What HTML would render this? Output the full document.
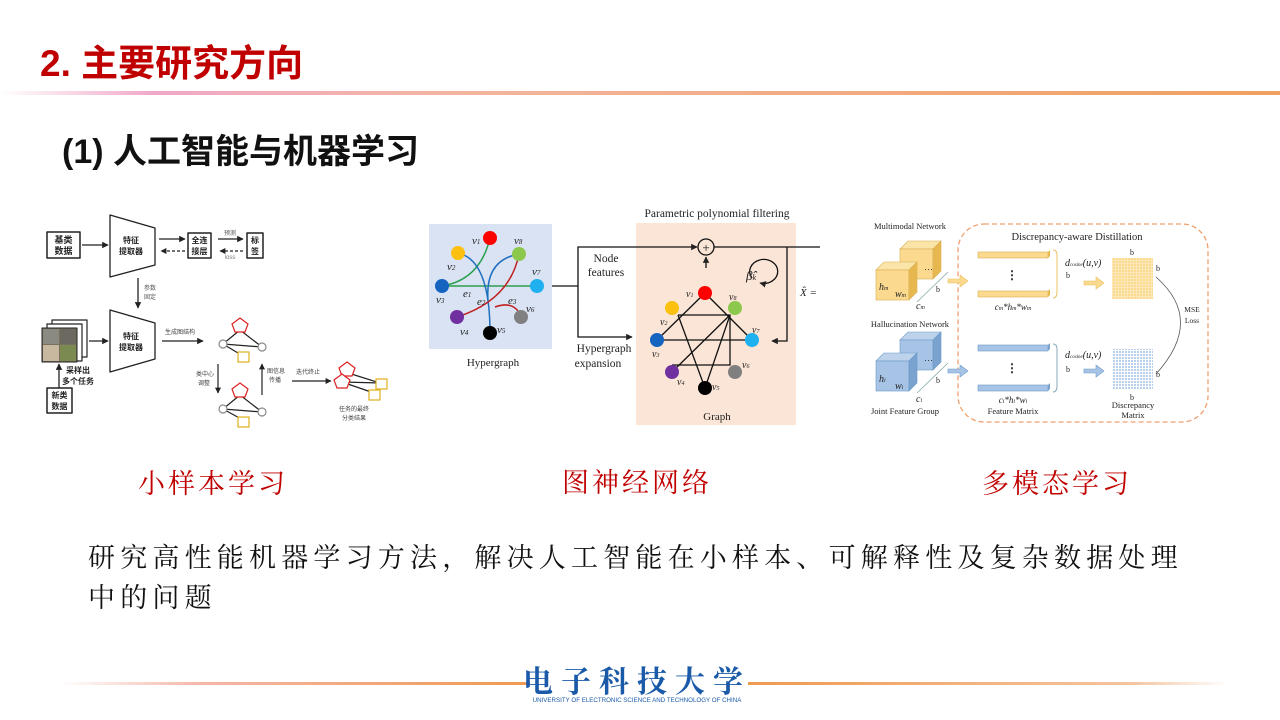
<!DOCTYPE html>
<html><head><meta charset="utf-8"><style>
html,body{margin:0;padding:0;background:#fff;}
body{width:1280px;height:720px;overflow:hidden;position:relative;}
svg{position:absolute;left:0;top:0;}
.s{font-family:"Liberation Sans","Noto Sans CJK SC",sans-serif;}
.r{font-family:"Liberation Serif","Noto Serif CJK SC",serif;}
.k{font-family:"Liberation Serif","Noto Serif CJK SC",serif;}
</style></head><body>
<svg width="1280" height="720" viewBox="0 0 1280 720" xmlns="http://www.w3.org/2000/svg">
<defs>
<linearGradient id="hl" x1="0" x2="1"><stop offset="0" stop-color="#fff"/><stop offset="0.12" stop-color="#f0a8c8"/><stop offset="0.35" stop-color="#f3b5a0"/><stop offset="1" stop-color="#f0a060"/></linearGradient>
<linearGradient id="fl" x1="0" x2="1"><stop offset="0" stop-color="#fff"/><stop offset="0.3" stop-color="#f4b6a8"/><stop offset="1" stop-color="#f09a50"/></linearGradient>
<linearGradient id="fr" x1="0" x2="1"><stop offset="0" stop-color="#f09a50"/><stop offset="0.8" stop-color="#f4c4a0"/><stop offset="1" stop-color="#fff"/></linearGradient>
<marker id="a" viewBox="0 0 10 10" refX="9" refY="5" markerWidth="5" markerHeight="5" orient="auto"><path d="M0,0L10,5L0,10z" fill="#222"/></marker>
<pattern id="gy" width="3" height="3" patternUnits="userSpaceOnUse"><rect width="3" height="3" fill="#fde8b8"/><rect width="2" height="2" fill="#fbd98f"/></pattern>
<pattern id="gb" width="3" height="3" patternUnits="userSpaceOnUse"><rect width="3" height="3" fill="#fff"/><rect width="2" height="2" fill="#b8d0ec"/></pattern>
</defs>

<!-- header -->
<text x="40" y="76" class="s" font-size="37" font-weight="bold" fill="#c00000">2. 主要研究方向</text>
<rect x="0" y="91" width="1280" height="4" fill="url(#hl)"/>
<text x="62" y="163" class="s" font-size="34" font-weight="bold" fill="#111">(1) 人工智能与机器学习</text>

<!-- Diagram 1 -->
<g class="s" font-size="9" fill="#222" stroke-linejoin="round">
<rect x="47" y="232" width="33" height="26" fill="#fff" stroke="#222" stroke-width="1.5"/>
<text x="63.5" y="243" text-anchor="middle" font-weight="bold">基类</text><text x="63.5" y="254" text-anchor="middle" font-weight="bold">数据</text>
<line x1="82" y1="245" x2="108" y2="245" stroke="#222" stroke-width="1.3" marker-end="url(#a)"/>
<path d="M110,215 L155,228 L155,265 L110,277z" fill="#fff" stroke="#222" stroke-width="1.3"/>
<text x="131" y="243" text-anchor="middle" font-size="8" font-weight="bold">特征</text><text x="131" y="254" text-anchor="middle" font-size="8" font-weight="bold">提取器</text>
<line x1="159" y1="239" x2="185" y2="239" stroke="#222" stroke-width="1.3" marker-end="url(#a)"/>
<line x1="185" y1="251" x2="161" y2="251" stroke="#222" stroke-width="1.2" stroke-dasharray="3,2" marker-end="url(#a)"/>
<rect x="188" y="233" width="23" height="25" fill="#fff" stroke="#222" stroke-width="1.5"/>
<text x="199.5" y="243" text-anchor="middle" font-size="8" font-weight="bold">全连</text><text x="199.5" y="254" text-anchor="middle" font-size="8" font-weight="bold">接层</text>
<line x1="218" y1="239" x2="243" y2="239" stroke="#222" stroke-width="1.3" marker-end="url(#a)"/>
<line x1="243" y1="251" x2="220" y2="251" stroke="#222" stroke-width="1.2" stroke-dasharray="3,2" marker-end="url(#a)"/>
<text x="230" y="235" text-anchor="middle" font-size="6" fill="#555">预测</text><text x="230" y="259" text-anchor="middle" font-size="6" fill="#777">loss</text>
<rect x="247" y="233" width="16" height="25" fill="#fff" stroke="#222" stroke-width="1.5"/>
<text x="255" y="243" text-anchor="middle" font-size="8" font-weight="bold">标</text><text x="255" y="254" text-anchor="middle" font-size="8" font-weight="bold">签</text>
<line x1="138" y1="278" x2="138" y2="308" stroke="#222" stroke-width="1.3" marker-end="url(#a)"/>
<text x="144" y="290" font-size="6" fill="#555">参数</text><text x="144" y="299" font-size="6" fill="#555">固定</text>
<path d="M110,310 L155,323 L155,359 L110,372z" fill="#fff" stroke="#222" stroke-width="1.3"/>
<text x="131" y="339" text-anchor="middle" font-size="8" font-weight="bold">特征</text><text x="131" y="350" text-anchor="middle" font-size="8" font-weight="bold">提取器</text>
<rect x="52" y="320" width="35" height="37" fill="#fff" stroke="#222" stroke-width="1.2"/>
<rect x="47" y="324" width="35" height="37" fill="#fff" stroke="#222" stroke-width="1.2"/>
<rect x="42" y="328" width="35" height="34" fill="#7a7060" stroke="#222" stroke-width="1"/>
<rect x="43" y="329" width="16" height="15" fill="#8a8a80"/><rect x="60" y="329" width="16" height="15" fill="#6c6a60"/>
<rect x="43" y="345" width="16" height="16" fill="#c9b8a0"/><rect x="60" y="345" width="16" height="16" fill="#7a8a50"/>
<line x1="89" y1="341" x2="108" y2="341" stroke="#222" stroke-width="1.3" marker-end="url(#a)"/>
<text x="78" y="373" text-anchor="middle" font-size="8" font-weight="bold">采样出</text><text x="78" y="384" text-anchor="middle" font-size="8" font-weight="bold">多个任务</text>
<line x1="59" y1="390" x2="59" y2="364" stroke="#222" stroke-width="1.3" marker-end="url(#a)"/>
<rect x="47" y="388" width="25" height="25" fill="#fff" stroke="#222" stroke-width="1.5"/>
<text x="59.5" y="398" text-anchor="middle" font-size="8" font-weight="bold">新类</text><text x="59.5" y="409" text-anchor="middle" font-size="8" font-weight="bold">数据</text>
<line x1="162" y1="341" x2="203" y2="341" stroke="#222" stroke-width="1.3" marker-end="url(#a)"/>
<text x="165" y="334" font-size="6" fill="#444">生成图结构</text>
<g stroke-width="1.2">
<line x1="240" y1="330" x2="223" y2="344" stroke="#222"/><line x1="240" y1="330" x2="262" y2="347" stroke="#222"/>
<line x1="223" y1="344" x2="262" y2="347" stroke="#222"/><line x1="223" y1="344" x2="243" y2="356" stroke="#222"/>
<path d="M240,318 L248,324 L245,332 L235,332 L232,324z" fill="#fff" stroke="#d22"/>
<circle cx="223" cy="344" r="4" fill="#fff" stroke="#888"/><circle cx="262" cy="347" r="4" fill="#fff" stroke="#888"/>
<rect x="238" y="352" width="11" height="10" fill="#fff" stroke="#e0b020"/>
<line x1="240" y1="395" x2="223" y2="409" stroke="#222"/><line x1="240" y1="395" x2="262" y2="412" stroke="#222"/>
<line x1="223" y1="409" x2="262" y2="412" stroke="#222"/><line x1="223" y1="409" x2="243" y2="420" stroke="#222"/>
<path d="M240,383 L248,389 L245,397 L235,397 L232,389z" fill="#fff" stroke="#d22"/>
<circle cx="223" cy="409" r="4" fill="#fff" stroke="#888"/><circle cx="262" cy="412" r="4" fill="#fff" stroke="#888"/>
<rect x="238" y="417" width="11" height="10" fill="#fff" stroke="#e0b020"/>
<line x1="218" y1="364" x2="218" y2="393" stroke="#222" marker-end="url(#a)"/>
<line x1="262" y1="395" x2="262" y2="364" stroke="#222" marker-end="url(#a)"/>
<line x1="292" y1="381" x2="331" y2="381" stroke="#222" marker-end="url(#a)"/>
<line x1="345" y1="372" x2="380" y2="383" stroke="#222"/><line x1="342" y1="382" x2="380" y2="383" stroke="#222"/><line x1="342" y1="382" x2="374" y2="393" stroke="#222"/>
<path d="M347,362 L355,368 L352,376 L342,376 L339,368z" fill="#fff" stroke="#d22"/>
<path d="M342,374 L350,380 L347,388 L337,388 L334,380z" fill="#fff" stroke="#d22"/>
<rect x="376" y="379" width="11" height="10" fill="#fff" stroke="#e0b020"/>
<rect x="369" y="390" width="11" height="10" fill="#fff" stroke="#e0b020"/>
</g>
<text x="196" y="376" font-size="6" fill="#444">类中心</text><text x="198" y="385" font-size="6" fill="#444">调整</text>
<text x="267" y="373" font-size="6" fill="#444">图信息</text><text x="269" y="382" font-size="6" fill="#444">传播</text>
<text x="296" y="374" font-size="6" fill="#444">迭代终止</text>
<text x="339" y="411" font-size="6" fill="#444">任务的最终</text><text x="342" y="420" font-size="6" fill="#444">分类结果</text>
</g>

<!-- Diagram 2 -->
<g class="r">
<rect x="429" y="224" width="123" height="125" fill="#dae3f3"/>
<g fill="none" stroke-width="1.5">
<path d="M442,286 Q480,280 490,238" stroke="#2aa050"/>
<line x1="442" y1="286" x2="537" y2="286" stroke="#2aa050"/>
<path d="M458,253 Q490,260 490,333" stroke="#1f6fc0"/>
<path d="M519,254 Q485,260 488,300" stroke="#1f6fc0"/>
<path d="M519,254 Q510,300 457,317" stroke="#c02020"/>
<path d="M495,307 Q515,300 521,317" stroke="#c02020"/>
</g>
<circle cx="490" cy="238" r="7" fill="#f00"/><circle cx="519" cy="254" r="7" fill="#8cc84b"/>
<circle cx="458" cy="253" r="7" fill="#fcc010"/><circle cx="537" cy="286" r="7" fill="#1fb0f0"/>
<circle cx="442" cy="286" r="7" fill="#1565c0"/><circle cx="521" cy="317" r="7" fill="#808080"/>
<circle cx="457" cy="317" r="7" fill="#7030a0"/><circle cx="490" cy="333" r="7" fill="#000"/>
<g font-style="italic" font-size="11" fill="#222">
<text x="472" y="244">v<tspan font-size="7">1</tspan></text><text x="514" y="244">v<tspan font-size="7">8</tspan></text>
<text x="447" y="270">v<tspan font-size="7">2</tspan></text><text x="532" y="275">v<tspan font-size="7">7</tspan></text>
<text x="436" y="303">v<tspan font-size="7">3</tspan></text><text x="526" y="312">v<tspan font-size="7">6</tspan></text>
<text x="460" y="335">v<tspan font-size="7">4</tspan></text><text x="497" y="333">v<tspan font-size="7">5</tspan></text>
<text x="463" y="297">e<tspan font-size="7">1</tspan></text><text x="477" y="305">e<tspan font-size="7">2</tspan></text><text x="508" y="304">e<tspan font-size="7">3</tspan></text>
</g>
<text x="493" y="366" text-anchor="middle" font-size="11" fill="#222">Hypergraph</text>

<rect x="636" y="223" width="160" height="202" fill="#fbe5d6"/>
<text x="717" y="217" text-anchor="middle" font-size="11.5" fill="#222">Parametric polynomial filtering</text>
<g stroke="#111" stroke-width="1.3" fill="none">
<polyline points="552,286 578,286"/>
<polyline points="578,286 578,247 697,247" marker-end="url(#a)"/>
<polyline points="578,286 578,337 632,337" marker-end="url(#a)"/>
<circle cx="706" cy="247" r="8" fill="#fbe5d6"/>
<line x1="706" y1="268" x2="706" y2="257" marker-end="url(#a)"/>
<line x1="714" y1="247" x2="820" y2="247"/>
<polyline points="787,247 787,341 772,341" marker-end="url(#a)"/>
<path d="M752,278 A14,12 0 1 1 760,283" marker-end="url(#a)"/>
<line x1="657" y1="340" x2="705" y2="293"/><line x1="705" y1="293" x2="752" y2="340"/>
<line x1="657" y1="340" x2="752" y2="340"/>
<polyline points="678,315 730,315 730,365 672,365"/>
<line x1="730" y1="315" x2="672" y2="372"/><line x1="730" y1="315" x2="705" y2="388"/>
<line x1="678" y1="315" x2="705" y2="388"/>
</g>
<text x="706" y="252" text-anchor="middle" font-size="13" fill="#111">+</text>
<circle cx="705" cy="293" r="7" fill="#f00"/><circle cx="735" cy="308" r="7" fill="#8cc84b"/>
<circle cx="672" cy="308" r="7" fill="#fcc010"/><circle cx="752" cy="340" r="7" fill="#1fb0f0"/>
<circle cx="657" cy="340" r="7" fill="#1565c0"/><circle cx="735" cy="372" r="7" fill="#808080"/>
<circle cx="672" cy="372" r="7" fill="#7030a0"/><circle cx="705" cy="388" r="7" fill="#000"/>
<g font-style="italic" font-size="10" fill="#222">
<text x="686" y="297">v<tspan font-size="6">1</tspan></text><text x="729" y="300">v<tspan font-size="6">8</tspan></text>
<text x="660" y="325">v<tspan font-size="6">2</tspan></text><text x="752" y="333">v<tspan font-size="6">7</tspan></text>
<text x="652" y="357">v<tspan font-size="6">3</tspan></text><text x="742" y="368">v<tspan font-size="6">6</tspan></text>
<text x="677" y="385">v<tspan font-size="6">4</tspan></text><text x="712" y="390">v<tspan font-size="6">5</tspan></text>
<text x="746" y="280" font-size="13">β̂<tspan font-size="8">k</tspan></text>
<text x="800" y="296" font-size="11">X̂ =</text>
</g>
<text x="606" y="262" text-anchor="middle" font-size="11.5" fill="#222">Node</text>
<text x="606" y="276" text-anchor="middle" font-size="11.5" fill="#222">features</text>
<text x="604" y="352" text-anchor="middle" font-size="11.5" fill="#222">Hypergraph</text>
<text x="598" y="367" text-anchor="middle" font-size="11.5" fill="#222">expansion</text>
<text x="717" y="420" text-anchor="middle" font-size="11" fill="#222">Graph</text>
</g>

<!-- Diagram 3 -->
<g class="r" fill="#222">
<rect x="958" y="224" width="250" height="198" rx="26" fill="none" stroke="#f0a070" stroke-width="1.3" stroke-dasharray="5,3"/>
<text x="910" y="229" text-anchor="middle" font-size="8.5">Multimodal Network</text>
<text x="1077" y="240" text-anchor="middle" font-size="10.5">Discrepancy-aware  Distillation</text>
<path d="M900,249 L908,241 L941,241 L933,249z" fill="#fbe4a8" stroke="#d8b050" stroke-width="0.6"/>
<rect x="900" y="249" width="33" height="30" fill="#fbd98f" stroke="#d8b050" stroke-width="0.6"/>
<path d="M933,249 L941,241 L941,271 L933,279z" fill="#e8b850" stroke="#d8b050" stroke-width="0.6"/>
<path d="M876,270 L884,262 L917,262 L909,270z" fill="#fbe4a8" stroke="#d8b050" stroke-width="0.6"/>
<rect x="876" y="270" width="33" height="30" fill="#fbd98f" stroke="#d8b050" stroke-width="0.6"/>
<path d="M909,270 L917,262 L917,292 L909,300z" fill="#e8b850" stroke="#d8b050" stroke-width="0.6"/>
<text x="879" y="290" font-size="10" font-style="italic">h<tspan font-size="6">m</tspan></text>
<text x="895" y="297" font-size="10" font-style="italic">w<tspan font-size="6">m</tspan></text>
<line x1="917" y1="302" x2="948" y2="272" stroke="#8aa" stroke-width="0.8"/>
<text x="924" y="273" font-size="9">⋯</text>
<text x="936" y="292" font-size="8">b</text>
<text x="916" y="309" font-size="10" font-style="italic">c<tspan font-size="6">m</tspan></text>
<path d="M948,279 L960,279 L960,275 L968,281 L960,287 L960,283 L948,283z" fill="#fbd98f" stroke="#e8c060" stroke-width="0.6"/>
<text x="910" y="327" text-anchor="middle" font-size="8.5">Hallucination Network</text>
<path d="M900,340 L908,332 L941,332 L933,340z" fill="#bdd3ec" stroke="#6a9ac8" stroke-width="0.6"/>
<rect x="900" y="340" width="33" height="30" fill="#a7c4e6" stroke="#6a9ac8" stroke-width="0.6"/>
<path d="M933,340 L941,332 L941,362 L933,370z" fill="#7aa3d0" stroke="#6a9ac8" stroke-width="0.6"/>
<path d="M876,361 L884,353 L917,353 L909,361z" fill="#bdd3ec" stroke="#6a9ac8" stroke-width="0.6"/>
<rect x="876" y="361" width="33" height="30" fill="#a7c4e6" stroke="#6a9ac8" stroke-width="0.6"/>
<path d="M909,361 L917,353 L917,383 L909,391z" fill="#7aa3d0" stroke="#6a9ac8" stroke-width="0.6"/>
<text x="879" y="382" font-size="10" font-style="italic">h<tspan font-size="6">i</tspan></text>
<text x="895" y="389" font-size="10" font-style="italic">w<tspan font-size="6">i</tspan></text>
<line x1="917" y1="393" x2="948" y2="363" stroke="#8aa" stroke-width="0.8"/>
<text x="924" y="364" font-size="9">⋯</text>
<text x="936" y="383" font-size="8">b</text>
<text x="916" y="402" font-size="10" font-style="italic">c<tspan font-size="6">i</tspan></text>
<text x="905" y="414" text-anchor="middle" font-size="8.5">Joint Feature Group</text>
<path d="M948,369 L960,369 L960,365 L968,371 L960,377 L960,373 L948,373z" fill="#a7c4e6" stroke="#6a9ac8" stroke-width="0.6"/>
<g stroke-width="0.6">
<rect x="978" y="252" width="70" height="6" fill="#fbd98f" stroke="#d8b050"/><path d="M1048,252 L1050,250 L1050,256 L1048,258z" fill="#e8b850"/>
<rect x="978" y="291" width="70" height="6" fill="#fbd98f" stroke="#d8b050"/><path d="M1048,291 L1050,289 L1050,295 L1048,297z" fill="#e8b850"/>
<rect x="978" y="345" width="70" height="6" fill="#a7c4e6" stroke="#6a9ac8"/><path d="M1048,345 L1050,343 L1050,349 L1048,351z" fill="#7aa3d0"/>
<rect x="978" y="385" width="70" height="6" fill="#a7c4e6" stroke="#6a9ac8"/><path d="M1048,385 L1050,383 L1050,389 L1048,391z" fill="#7aa3d0"/>
</g>
<text x="1012" y="279" text-anchor="middle" font-size="12" font-weight="bold">⋮</text>
<text x="1012" y="372" text-anchor="middle" font-size="12" font-weight="bold">⋮</text>
<path d="M1053,250 Q1057,250 1057,255 L1057,292 Q1057,298 1053,298" fill="none" stroke="#e8c060"/>
<path d="M1053,344 Q1057,344 1057,349 L1057,386 Q1057,392 1053,392" fill="none" stroke="#8ab"/>
<text x="1013" y="310" text-anchor="middle" font-size="9" font-style="italic">c<tspan font-size="6">m</tspan>*h<tspan font-size="6">m</tspan>*w<tspan font-size="6">m</tspan></text>
<text x="1013" y="403" text-anchor="middle" font-size="9" font-style="italic">c<tspan font-size="6">i</tspan>*h<tspan font-size="6">i</tspan>*w<tspan font-size="6">i</tspan></text>
<text x="1013" y="414" text-anchor="middle" font-size="8.5">Feature Matrix</text>
<text x="1065" y="266" font-size="10" font-style="italic">d<tspan font-size="5">cosine</tspan>(u,v)</text>
<text x="1066" y="278" font-size="8">b</text>
<text x="1065" y="358" font-size="10" font-style="italic">d<tspan font-size="5">cosine</tspan>(u,v)</text>
<text x="1066" y="372" font-size="8">b</text>
<path d="M1084,281 L1096,281 L1096,277 L1104,283 L1096,289 L1096,285 L1084,285z" fill="#fbd98f" stroke="#e8c060" stroke-width="0.6"/>
<path d="M1084,369 L1096,369 L1096,365 L1104,371 L1096,377 L1096,373 L1084,373z" fill="#a7c4e6" stroke="#6a9ac8" stroke-width="0.6"/>
<rect x="1112" y="258" width="41" height="41" fill="url(#gy)"/>
<rect x="1112" y="349" width="41" height="41" fill="url(#gb)"/>
<text x="1132" y="255" text-anchor="middle" font-size="8">b</text>
<text x="1156" y="271" font-size="8">b</text>
<text x="1156" y="377" font-size="8">b</text>
<text x="1132" y="400" text-anchor="middle" font-size="8">b</text>
<text x="1133" y="408" text-anchor="middle" font-size="8.5">Discrepancy</text>
<text x="1133" y="418" text-anchor="middle" font-size="8.5">Matrix</text>
<path d="M1156,277 Q1205,320 1156,374" fill="none" stroke="#555" stroke-width="0.8"/>
<text x="1192" y="312" text-anchor="middle" font-size="7.5">MSE</text>
<text x="1192" y="323" text-anchor="middle" font-size="7.5">Loss</text>
</g>

<!-- captions -->
<g class="k" font-size="27" fill="#c00000" letter-spacing="3">
<text x="213" y="493" text-anchor="middle">小样本学习</text>
<text x="637" y="492" text-anchor="middle">图神经网络</text>
<text x="1057" y="493" text-anchor="middle">多模态学习</text>
</g>
<g class="k" font-size="27" fill="#111" letter-spacing="5.2">
<text x="88" y="567">研究高性能机器学习方法，解决人工智能在小样本、可解释性及复杂数据处理</text>
<text x="88" y="607">中的问题</text>
</g>

<!-- footer -->
<rect x="60" y="682" width="470" height="3" fill="url(#fl)"/>
<rect x="748" y="682" width="480" height="3" fill="url(#fr)"/>
<text x="637" y="692" text-anchor="middle" class="k" font-size="30" font-weight="bold" fill="#1a5aa8" letter-spacing="8">电子科技大学</text>
<text x="637" y="702" text-anchor="middle" class="s" font-size="6.2" fill="#1a5aa8">UNIVERSITY OF ELECTRONIC SCIENCE AND TECHNOLOGY OF CHINA</text>
</svg>
</body></html>
